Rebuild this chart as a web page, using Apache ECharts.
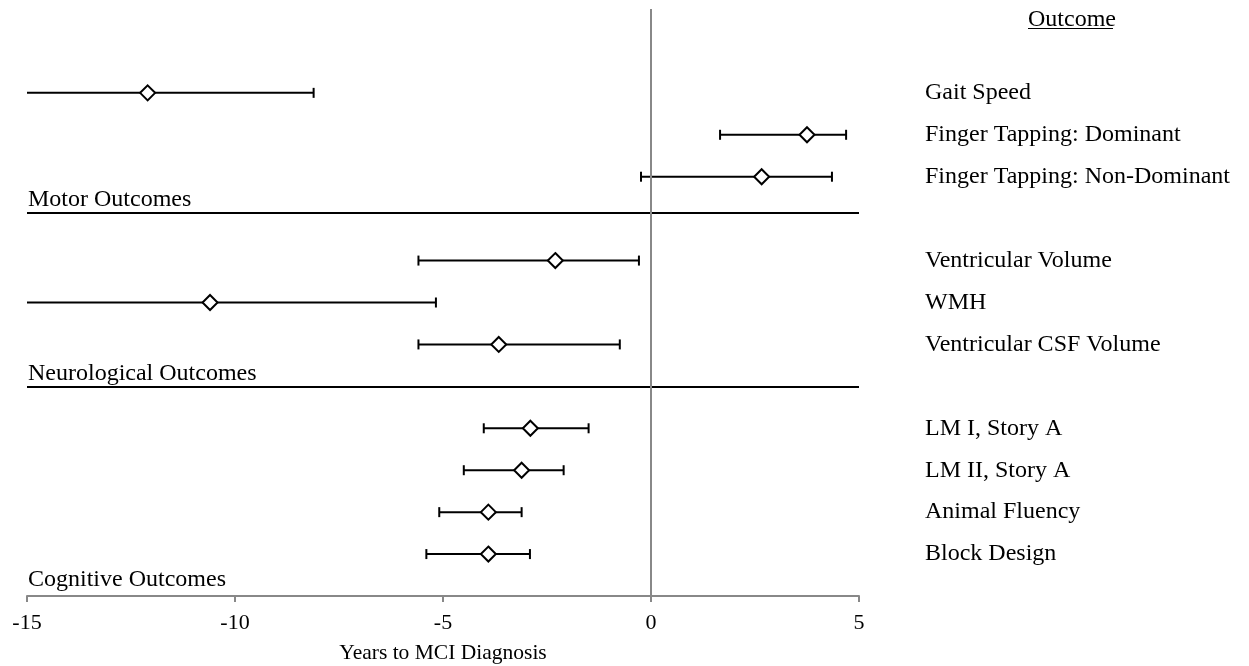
<!DOCTYPE html>
<html>
<head>
<meta charset="utf-8">
<script src="https://cdn.jsdelivr.net/npm/echarts@6/dist/echarts.min.js"></script>
<style>html,body{margin:0;padding:0;background:#fff;}#chart{width:1249px;height:666px;}</style>
</head>
<body>
<div id="chart"></div>
<script>
// ---- data ----
const rowLabels = ['Gait Speed','Finger Tapping: Dominant','Finger Tapping: Non-Dominant','Ventricular Volume','WMH','Ventricular CSF Volume','LM I, Story A','LM II, Story A','Animal Fluency','Block Design'];
const rowPositions = [12, 11, 10, 8, 7, 6, 4, 3, 2, 1];
const estimates = [-12.10, 3.75, 2.66, -2.30, -10.60, -3.66, -2.90, -3.11, -3.91, -3.91];
const lowerCI   = [-17.0, 1.66, -0.24, -5.59, -16.0, -5.59, -4.02, -4.50, -5.09, -5.40];
const upperCI   = [-8.11, 4.69, 4.35, -0.29, -5.17, -0.75, -1.50, -2.10, -3.11, -2.91];
const sectionNames = ['Motor Outcomes', 'Neurological Outcomes', 'Cognitive Outcomes'];
const sectionLines = [9.15, 5, 0];
const xMin = -15, xMax = 5, xStep = 5;
const yMin = 0, yMax = 14;
const xAxisTitle = 'Years to MCI Diagnosis';
const rightTitle = 'Outcome';

const FONT = "'Liberation Serif','Times New Roman',serif";
const chart = echarts.init(document.getElementById('chart'), null, {renderer: 'canvas'});

const barData = rowLabels.map((n, i) => [lowerCI[i], upperCI[i], rowPositions[i]]);
const pointData = rowLabels.map((n, i) => [estimates[i], rowPositions[i]]);

const sectionMarks = sectionNames.map((n, i) => ({
  name: n,
  yAxis: sectionLines[i],
  lineStyle: {color: i === 2 ? 'rgba(0,0,0,0)' : '#000', width: 2, type: 'solid'},
  label: {show: true, formatter: n, position: 'insideStartTop', color: '#000', fontFamily: FONT, fontSize: 24, distance: [1, i === 2 ? 4 : 1]}
}));

const option = {
  animation: false,
  backgroundColor: '#fff',
  grid: {left: 27, right: 390, top: 9, bottom: 70, containLabel: false, outerBoundsMode: 'none'},
  xAxis: {
    type: 'value', min: xMin, max: xMax, interval: xStep,
    name: xAxisTitle, nameLocation: 'middle', nameGap: 46,
    nameTextStyle: {color: '#000', fontFamily: FONT, fontSize: 21.5},
    axisLine: {show: true, onZero: false, lineStyle: {color: '#888', width: 2}},
    axisTick: {show: true, inside: false, length: 6, lineStyle: {color: '#888', width: 2}},
    axisLabel: {color: '#000', fontFamily: FONT, fontSize: 22, margin: 16},
    splitLine: {show: false}
  },
  yAxis: [
    {type: 'value', min: yMin, max: yMax, interval: 1, show: false, splitLine: {show: false}},
    {type: 'value', min: yMin, max: yMax, interval: 1, position: 'right',
     axisLine: {show: false}, axisTick: {show: false}, splitLine: {show: false},
     axisLabel: {show: true, margin: 66, color: '#000', fontFamily: FONT, fontSize: 24, padding: [0, 0, 6, 0],
       formatter: v => { const k = rowPositions.indexOf(v); return k >= 0 ? rowLabels[k] : ''; }}
    }
  ],
  graphic: [
    {type: 'text', left: 1028, top: 8, style: {text: rightTitle, font: "24px 'Liberation Serif'", fill: '#000'}},
    {type: 'line', shape: {x1: 1028, y1: 28.5, x2: 1113, y2: 28.5}, style: {stroke: '#000', lineWidth: 1}}
  ],
  series: [
    {
      type: 'scatter', z: 1, data: [], silent: true,
      markLine: {
        silent: true, symbol: ['none', 'none'], animation: false,
        data: [
          ...sectionMarks,
          {xAxis: 0, lineStyle: {color: '#888', width: 2, type: 'solid'}, label: {show: false}}
        ]
      }
    },
    {
      type: 'custom', z: 2, data: barData, silent: true,
      renderItem: function (params, api) {
        const cs = params.coordSys;
        const a = api.coord([api.value(0), api.value(2)]);
        const b = api.coord([api.value(1), api.value(2)]);
        const left = cs.x, right = cs.x + cs.width;
        const x0 = Math.max(a[0], left), x1 = Math.min(b[0], right);
        const y = a[1], h = 5;
        const st = {stroke: '#000', lineWidth: 2};
        const children = [{type: 'line', shape: {x1: x0, y1: y, x2: x1, y2: y}, style: st}];
        if (a[0] >= left - 0.5) children.push({type: 'line', shape: {x1: a[0], y1: y - h, x2: a[0], y2: y + h}, style: st});
        if (b[0] <= right + 0.5) children.push({type: 'line', shape: {x1: b[0], y1: y - h, x2: b[0], y2: y + h}, style: st});
        return {type: 'group', children: children};
      }
    },
    {
      type: 'scatter', z: 3, data: pointData, symbol: 'diamond', symbolSize: 15,
      itemStyle: {color: '#fff', borderColor: '#000', borderWidth: 2, opacity: 1}
    }
  ]
};
chart.setOption(option);
</script>
</body>
</html>
